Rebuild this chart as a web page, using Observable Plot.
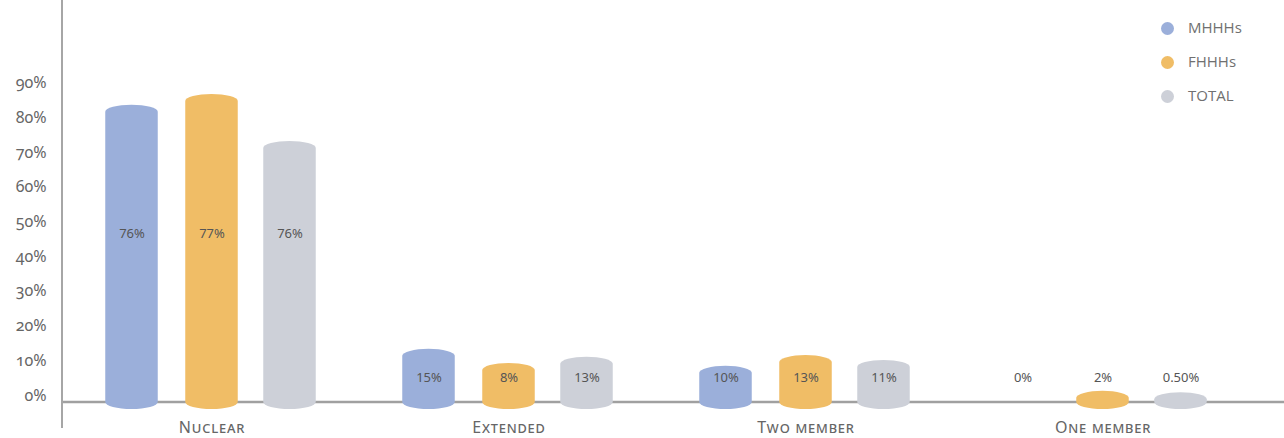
<!DOCTYPE html>
<html>
<head>
<meta charset="utf-8">
<script src="https://cdn.jsdelivr.net/npm/d3@7"></script>
<script src="https://cdn.jsdelivr.net/npm/@observablehq/plot@0.6"></script>
<style>
  html, body { margin: 0; padding: 0; background: #fff; }
  #wrap { position: relative; width: 1284px; height: 438px; }
  #wrap svg text { font-family: "Noto Sans", sans-serif; }
  #wrap svg text.num, #wrap svg g[aria-label="y-axis tick label"] text { font-variant-numeric: oldstyle-nums; }
  #legend { position: absolute; left: 1161px; top: 10px; font-family: "Open Sans", sans-serif; font-size: 15px; color: #707070; }
  #legend .item { display: flex; align-items: center; height: 34px; }
  #legend .sw { width: 13px; height: 13px; border-radius: 50%; margin-right: 14px; margin-top: 3px; }
</style>
</head>
<body>
<div id="wrap"></div>
<script>
// ---- Data ----
const categories = ["Nuclear", "Extended", "Two member", "One member"];
const series = ["MHHHs", "FHHHs", "TOTAL"];
const colors = ["#9bafda", "#f0bd66", "#cdd0d8"];
// data labels printed on the chart (%)
const mhhhsLabel = [76, 15, 10, 0];
const fhhhsLabel = [77, 8, 13, 2];
const totalLabel = [76, 13, 11, 0.5];
// bar heights as drawn, read against the y axis (%)
const mhhhsBar = [83.6, 13.3, 8.4, 0];
const fhhhsBar = [86.7, 9.2, 11.5, 1.2];
const totalBar = [73.2, 11.0, 10.1, 0.8];
const yTicks = [0, 10, 20, 30, 40, 50, 60, 70, 80, 90];

const labelArrays = [mhhhsLabel, fhhhsLabel, totalLabel];
const barArrays = [mhhhsBar, fhhhsBar, totalBar];
const rows = [];
series.forEach((s, i) => categories.forEach((c, j) => rows.push({series: s, category: c, bar: barArrays[i][j], label: labelArrays[i][j]})));
const catMean = new Map(categories.map((c, j) => [c, d3.mean(barArrays, a => a[j])]));
const fmt = v => Number.isInteger(v) ? `${v}%` : `${v.toFixed(2)}%`;

// ---- Layout ----
const W = 1284, H = 438, mL = 62, mR = 32, mT = 0, mB = 36;
const band = (W - mL - mR) / categories.length;
const barW = 53;
const inset = (band - barW) / 2;
const offsets = [-80, 0, 78];

function axisLines(index, scales, values, dims) {
  const g = d3.create("svg:g");
  const y0 = dims.height - dims.marginBottom;
  g.append("line").attr("x1", dims.marginLeft).attr("x2", dims.width).attr("y1", y0).attr("y2", y0)
    .attr("stroke", "#a0a0a0").attr("stroke-width", 2.6);
  g.append("line").attr("x1", dims.marginLeft).attr("x2", dims.marginLeft).attr("y1", 0).attr("y2", y0 + 26)
    .attr("stroke", "#a6a6a6").attr("stroke-width", 2);
  return g.node();
}

const marks = [axisLines];
series.forEach((s, i) => {
  marks.push(Plot.barY(rows.filter(d => d.series === s && d.bar > 0), {
    x: "category", y: "bar", fill: colors[i], dx: offsets[i],
    insetLeft: inset, insetRight: inset, insetTop: -7, insetBottom: -7, rx: barW / 2, ry: 7
  }));
});
series.forEach((s, i) => {
  marks.push(Plot.text(rows.filter(d => d.series === s && !(d.category !== "One member" && d.bar === 0)), {
    x: "category", y: d => Math.max(catMean.get(d.category) * 0.6, 7), dx: offsets[i],
    text: d => fmt(d.label), fontSize: 13, fill: "#555", className: "num"
  }));
});
marks.push(Plot.axisY(yTicks, {tickSize: 0, tickPadding: 16, dy: -7, tickFormat: d => `${d}%`, fontSize: 16, fill: "#666", label: null}));
marks.push(Plot.text(categories, {x: d => d, frameAnchor: "bottom", dy: 30, fontSize: 16, fill: "#666", fontVariant: "small-caps", className: "cat"}));

const chart = Plot.plot({
  width: W, height: H, marginLeft: mL, marginRight: mR, marginTop: mT, marginBottom: mB,
  x: {type: "band", domain: categories, padding: 0, axis: null},
  y: {domain: [0, 115.8]},
  style: {background: "transparent", overflow: "visible"},
  marks
});
const wrap = document.getElementById("wrap");
wrap.appendChild(chart);
chart.querySelectorAll(".cat text").forEach(t => t.setAttribute("letter-spacing", "0.8"));

const legend = document.createElement("div");
legend.id = "legend";
series.forEach((s, i) => {
  const it = document.createElement("div");
  it.className = "item";
  it.innerHTML = `<span class="sw" style="background:${colors[i]}"></span><span>${s}</span>`;
  legend.appendChild(it);
});
wrap.appendChild(legend);
</script>
</body>
</html>
